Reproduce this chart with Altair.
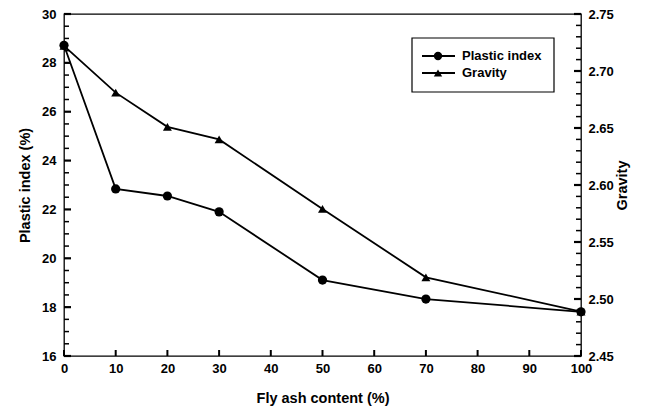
import altair as alt
import pandas as pd

fly_ash = [0, 10, 20, 30, 50, 70, 100]
plastic_index = [28.72, 22.84, 22.55, 21.9, 19.11, 18.33, 17.81]
gravity = [2.722, 2.681, 2.651, 2.640, 2.579, 2.519, 2.489]
series = ["Plastic index", "Gravity"]

x_ticks = list(range(0, 101, 10))
pi_major = list(range(16, 31, 2))
pi_minor = [v / 2 for v in range(32, 61) if v % 4 != 0]
g_major = [2.45, 2.50, 2.55, 2.60, 2.65, 2.70, 2.75]
g_minor = [round(2.45 + 0.01 * i, 2) for i in range(31) if i % 5 != 0]

FONT = "Liberation Sans"
W, H = 517, 342

df = pd.DataFrame({"x": fly_ash, "pi": plastic_index, "g": gravity})
leg = pd.DataFrame({"series": series})

x_scale = alt.Scale(domain=[0, 100], nice=False, zero=False)
x_enc = alt.X(
    "x:Q", scale=x_scale,
    axis=alt.Axis(values=x_ticks, title="Fly ash content (%)", ticks=False,
                  domain=False, labelPadding=6, titlePadding=16, grid=False, labelFlush=False,
                  labelFontSize=13, labelFontWeight="bold", titleFontSize=14.5),
)

pi_scale = alt.Scale(domain=[16, 30], nice=False, zero=False)
g_scale = alt.Scale(domain=[2.45, 2.75], nice=False, zero=False)

pi_line = alt.Chart(df).mark_line(color="black", strokeWidth=1.8).encode(
    x=x_enc,
    y=alt.Y("pi:Q", scale=pi_scale,
            axis=alt.Axis(orient="left", values=pi_major, title="Plastic index (%)",
                          ticks=False, domain=False, labelPadding=8, labelFlush=False,
                          titlePadding=9, grid=False, labelFontSize=13,
                          labelFontWeight="bold", titleFontSize=14.5)),
)
pi_pts = alt.Chart(df).mark_point(shape="circle", filled=True, color="black", size=85, opacity=1).encode(
    x=x_enc, y=alt.Y("pi:Q", scale=pi_scale, axis=None),
)
g_line = alt.Chart(df).mark_line(color="black", strokeWidth=1.8).encode(
    x=x_enc,
    y=alt.Y("g:Q", scale=g_scale,
            axis=alt.Axis(orient="right", values=g_major, format=".2f", title="Gravity",
                          ticks=False, domain=False, labelPadding=7, labelFlush=False,
                          titlePadding=16, titleAngle=270, grid=False, labelFontSize=13,
                          labelFontWeight="bold", titleFontSize=14.5)),
)
g_pts = alt.Chart(df).mark_point(shape="triangle-up", filled=True, color="black", size=80, opacity=1).encode(
    x=x_enc, y=alt.Y("g:Q", scale=g_scale, axis=None),
)

# inward tick marks
xt = alt.Chart(pd.DataFrame({"x": x_ticks})).mark_rule(color="black", strokeWidth=2, opacity=1).encode(
    x=x_enc, y=alt.value(H - 6), y2=alt.value(H))
pit_major = alt.Chart(pd.DataFrame({"pi": pi_major})).mark_rule(color="black", strokeWidth=2.2, opacity=1).encode(
    y=alt.Y("pi:Q", scale=pi_scale, axis=None), x=alt.value(0), x2=alt.value(7))
pit_minor = alt.Chart(pd.DataFrame({"pi": pi_minor})).mark_rule(color="black", strokeWidth=1.5, opacity=1).encode(
    y=alt.Y("pi:Q", scale=pi_scale, axis=None), x=alt.value(0), x2=alt.value(5))
gt_major = alt.Chart(pd.DataFrame({"g": g_major})).mark_rule(color="black", strokeWidth=2.2, opacity=1).encode(
    y=alt.Y("g:Q", scale=g_scale, axis=None), x=alt.value(W - 7), x2=alt.value(W))
gt_minor = alt.Chart(pd.DataFrame({"g": g_minor})).mark_rule(color="black", strokeWidth=1.5, opacity=1).encode(
    y=alt.Y("g:Q", scale=g_scale, axis=None), x=alt.value(W - 5), x2=alt.value(W))

leg_y = alt.Y("series:N", scale=alt.Scale(type="point", padding=0, domain=series, range=[42, 59]), axis=None)
leg_box = alt.Chart(pd.DataFrame({"a": [0]})).mark_rect(
    fill="white", stroke="black", strokeWidth=1.2
).encode(x=alt.value(348), x2=alt.value(490), y=alt.value(24), y2=alt.value(78))
leg_rule = alt.Chart(leg).mark_rule(color="black", strokeWidth=1.8).encode(
    x=alt.value(358), x2=alt.value(391), y=leg_y
)
leg_pts = alt.Chart(leg).mark_point(filled=True, color="black", size=70, opacity=1).encode(
    x=alt.value(374), y=leg_y,
    shape=alt.Shape("series:N", scale=alt.Scale(domain=series, range=["circle", "triangle-up"]), legend=None),
)
leg_txt = alt.Chart(leg).mark_text(
    align="left", baseline="middle", font=FONT, fontSize=13, fontWeight="bold", color="black"
).encode(x=alt.value(398), y=leg_y, text="series:N")

chart = alt.layer(
    pi_line, pi_pts, g_line, g_pts, xt, pit_major, pit_minor, gt_major, gt_minor,
    leg_box, leg_rule, leg_pts, leg_txt
).resolve_scale(y="independent").properties(
    width=W, height=H,
    autosize=alt.AutoSizeParams(type="none"),
    padding={"left": 64, "top": 14, "right": 67, "bottom": 55},
    background="white",
).configure_view(stroke="black", strokeWidth=1.3).configure_axis(
    labelFont=FONT, titleFont=FONT, labelColor="black", titleColor="black",
    titleFontWeight="bold"
)

chart.save("out.html", embed_options={"renderer": "svg", "actions": False})
